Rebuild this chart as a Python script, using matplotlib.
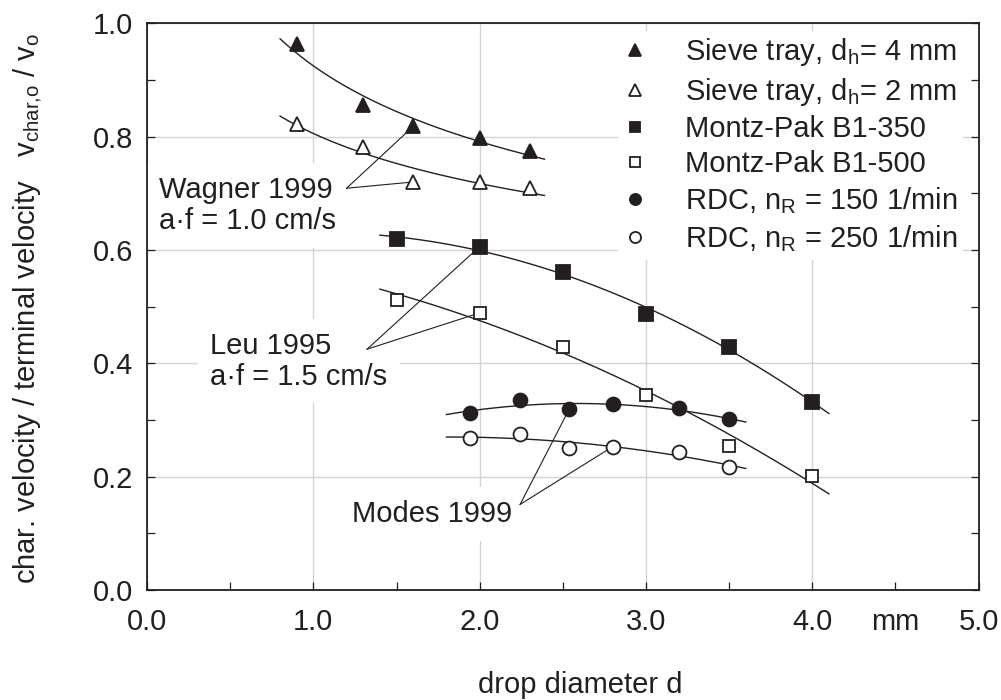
import numpy as np
import matplotlib
matplotlib.use("Agg")
import matplotlib.pyplot as plt

plt.rcParams["font.family"] = ["Liberation Sans", "DejaVu Sans"]
plt.rcParams["mathtext.fontset"] = "custom"
plt.rcParams["mathtext.rm"] = "Liberation Sans"
plt.rcParams["mathtext.default"] = "regular"

INK = "#231f20"
FS = 21

# -----------------------------
# DATI
# -----------------------------
d_sieve = [0.9, 1.3, 1.6, 2.0, 2.3]
v_sieve4 = [0.963, 0.856, 0.818, 0.798, 0.775]
v_sieve2 = [0.823, 0.782, 0.720, 0.720, 0.709]

d_montz = [1.5, 2.0, 2.5, 3.0, 3.5, 4.0]
v_b350 = [0.619, 0.606, 0.561, 0.487, 0.429, 0.332]
v_b500 = [0.512, 0.489, 0.429, 0.345, 0.255, 0.201]

d_rdc = [1.94, 2.24, 2.54, 2.80, 3.20, 3.50]
v_rdc150 = [0.313, 0.335, 0.320, 0.328, 0.321, 0.301]
v_rdc250 = [0.268, 0.275, 0.251, 0.253, 0.244, 0.217]

labels = [
    "Sieve tray, d$_h$= 4 mm",
    "Sieve tray, d$_h$= 2 mm",
    "Montz-Pak B1-350",
    "Montz-Pak B1-500",
    "RDC, n$_R$ = 150 1/min",
    "RDC, n$_R$ = 250 1/min",
]

# intervallo delle curve di fit
range_sieve = (0.8, 2.39)
range_montz = (1.4, 4.1)
range_rdc = (1.8, 3.6)


# -----------------------------
# CURVE DI FIT
# -----------------------------
def fit_power(x, y, xr):
    # y = a * x^b
    b, lna = np.polyfit(np.log(x), np.log(y), 1)
    xs = np.linspace(*xr, 200)
    return xs, np.exp(lna) * xs**b


def fit_quad(x, y, xr):
    p = np.polyfit(x, y, 2)
    xs = np.linspace(*xr, 200)
    return xs, np.polyval(p, xs)


# -----------------------------
# GRAFICO
# -----------------------------
fig = plt.figure(figsize=(10.01, 7), dpi=100)
ax = fig.add_axes([0.1469, 0.1571, 0.8307, 0.8096])

curves = [
    fit_power(d_sieve, v_sieve4, range_sieve),
    fit_power(d_sieve, v_sieve2, range_sieve),
    fit_quad(d_montz, v_b350, range_montz),
    fit_quad(d_montz, v_b500, range_montz),
    fit_quad(d_rdc, v_rdc150, range_rdc),
    fit_quad(d_rdc, v_rdc250, range_rdc),
]
for xs, ys in curves:
    ax.plot(xs, ys, color=INK, lw=1.0, zorder=3)

series = [
    (d_sieve, v_sieve4, "^", INK, 10.5),
    (d_sieve, v_sieve2, "^", "white", 10.0),
    (d_montz, v_b350, "s", INK, 9.5),
    (d_montz, v_b500, "s", "white", 9.0),
    (d_rdc, v_rdc150, "o", INK, 10.0),
    (d_rdc, v_rdc250, "o", "white", 10.0),
]
handles = []
for (x, y, m, fc, ms), lab in zip(series, labels):
    (h,) = ax.plot(x, y, ls="none", marker=m, ms=ms, mfc=fc, mec=INK,
                   mew=1.3, zorder=5, label=lab)
    handles.append(h)

# etichette con linee di richiamo (y = baseline dell'ultima riga)
txt_kw = dict(fontsize=FS, color=INK, va="baseline", ha="left", zorder=4,
              linespacing=1.15,
              bbox=dict(facecolor="white", edgecolor="none", pad=9))
ax.text(0.072, 0.637, "Wagner 1999\na·f = 1.0 cm/s", **txt_kw)
ax.text(0.379, 0.362, "Leu 1995\na·f = 1.5 cm/s", **txt_kw)
ax.text(1.233, 0.120, "Modes 1999", **txt_kw)

line_kw = dict(color=INK, lw=0.8, zorder=4.5)
apex = (1.20, 0.709)
ax.plot([apex[0], d_sieve[2]], [apex[1], v_sieve4[2]], **line_kw)
ax.plot([apex[0], d_sieve[2]], [apex[1], v_sieve2[2]], **line_kw)
apex = (1.323, 0.425)
ax.plot([apex[0], d_montz[1]], [apex[1], v_b350[1]], **line_kw)
ax.plot([apex[0], d_montz[1]], [apex[1], v_b500[1]], **line_kw)
apex = (2.243, 0.151)
ax.plot([apex[0], d_rdc[2]], [apex[1], v_rdc150[2]], **line_kw)
ax.plot([apex[0], d_rdc[3]], [apex[1], v_rdc250[3]], **line_kw)

# assi
ax.set_xlim(0, 5)
ax.set_ylim(0, 1)
ax.set_xticks(np.arange(0, 5.01, 1.0))
ax.set_xticklabels([f"{v:.1f}" for v in np.arange(0, 5.01, 1.0)])
ax.set_xticks(np.arange(0.5, 5, 1.0), minor=True)
ax.set_xticklabels(["", "", "", "", "mm"], minor=True)
ax.set_yticks(np.arange(0, 1.01, 0.2))
ax.set_yticklabels([f"{v:.1f}" for v in np.arange(0, 1.01, 0.2)])
ax.set_yticks(np.arange(0.1, 1, 0.2), minor=True)

ax.tick_params(which="both", direction="in", length=6, width=0.9,
               colors=INK, labelsize=FS, right=True, top=False)
ax.tick_params(axis="x", which="both", pad=13)
ax.tick_params(axis="y", which="both", pad=10)
for s in ax.spines.values():
    s.set_linewidth(1.3)
    s.set_color(INK)
    s.set_zorder(8)

ax.grid(True, which="major", color="#d3d3d3", lw=1.0)
ax.set_axisbelow(True)

ax.set_xlabel("drop diameter d", fontsize=FS, color=INK)
ax.xaxis.set_label_coords(0.521, -0.142)
ax.set_ylabel("char. velocity / terminal velocity   v$_{char{,}o}$ / v$_o$",
              fontsize=FS, color=INK)
ax.yaxis.set_label_coords(-0.124, 0.497)

leg = ax.legend(handles=handles, loc="upper right", bbox_to_anchor=(0.99, 1),
                fontsize=FS, frameon=True, fancybox=False, framealpha=1,
                borderaxespad=0.25, borderpad=0.2, handlelength=0.8,
                handletextpad=1.3, labelspacing=0.25, markerscale=0.8)
leg.get_frame().set_edgecolor("none")
leg.set_zorder(6)
for t in leg.get_texts():
    t.set_color(INK)

fig.savefig("out.png", dpi=100)
